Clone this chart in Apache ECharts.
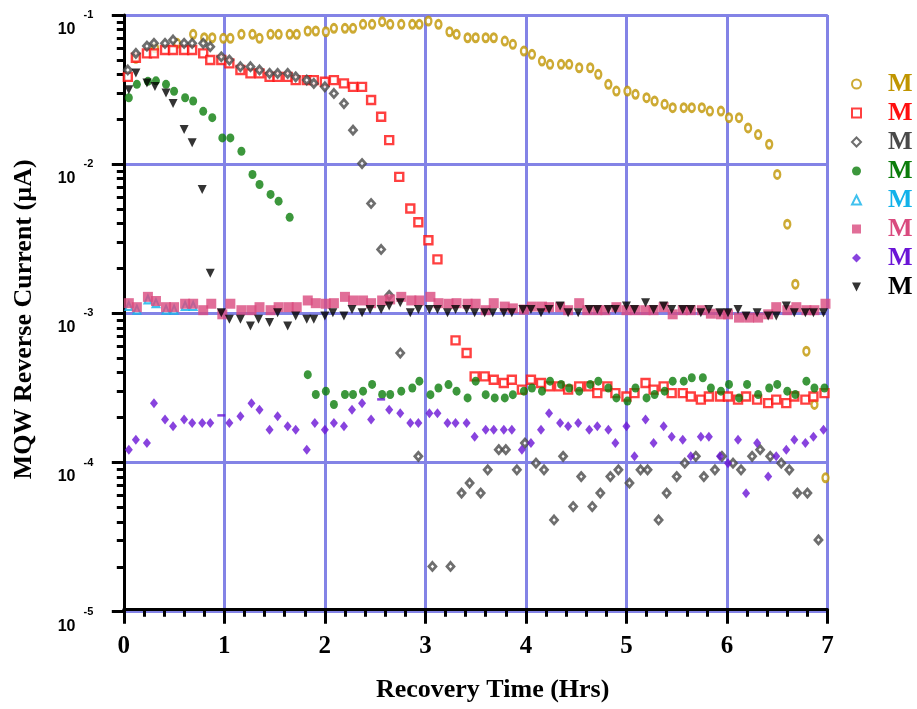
<!DOCTYPE html>
<html>
<head>
<meta charset="utf-8">
<script src="https://cdn.jsdelivr.net/npm/echarts@6/dist/echarts.min.js"></script>
<style>html,body{margin:0;padding:0;background:#fff}#c{width:917px;height:709px}</style>
</head>
<body>
<div id="c"></div>
<script>
const seriesNames = ['M1','M2','M3','M4','M5','M6','M7','M8'];
const legendLabel = 'M';
const xTitle = 'Recovery Time (Hrs)';
const yTitle = 'MQW Reverse Current (µA)';

const goldData = [[0.12,0.0512],[0.31,0.0603],[0.53,0.0646],
[0.69,0.0742],[0.80,0.0704],[0.88,0.0704],[0.99,0.0698],[1.06,0.0698],[1.17,0.0742],[1.28,0.0742],[1.35,0.0698],[1.46,0.0742],[1.54,0.0742],[1.65,0.0742],[1.72,0.0742],[1.83,0.0781],[1.91,0.0781],[2.01,0.0772],[2.09,0.0814],[2.20,0.0814],[2.28,0.0814],[2.38,0.0866],[2.47,0.0866],[2.57,0.0902],[2.65,0.0866],[2.76,0.0866],[2.87,0.0866],[2.94,0.0866],[3.03,0.0911],[3.13,0.0866],[3.24,0.0772],[3.31,0.0742],[3.42,0.0704],[3.50,0.0704],[3.60,0.0704],[3.68,0.0704],[3.79,0.0669],[3.87,0.0636],[3.98,0.0573],[4.06,0.0545],[4.16,0.0491],[4.24,0.0467],[4.35,0.0467],[4.43,0.0467],[4.53,0.0443],[4.64,0.0443],[4.72,0.0400],[4.82,0.0343],[4.90,0.0309],[5.01,0.0309],[5.09,0.0294],[5.20,0.0279],[5.28,0.0265],[5.38,0.0252],[5.46,0.0239],[5.57,0.0239],[5.65,0.0239],[5.75,0.0239],[5.83,0.0227],[5.94,0.0227],[6.02,0.0205],[6.12,0.0205],[6.21,0.0175],[6.31,0.0158],[6.42,0.0136],[6.50,0.00853],[6.60,0.00396],[6.68,0.00157],[6.79,0.000558],[6.87,0.000245],[6.98,0.000079]];

const redData = [[0.04,0.0385],[0.12,0.0517],[0.23,0.0553],[0.30,0.0553],[0.41,0.0582],[0.49,0.0582],[0.60,0.0582],[0.68,0.0582],[0.79,0.0553],[0.86,0.0499],[0.97,0.0499],[1.05,0.0474],[1.16,0.0428],[1.26,0.0406],[1.35,0.0406],[1.45,0.0385],[1.53,0.0385],[1.63,0.0385],[1.71,0.0366],[1.82,0.0366],[1.89,0.0366],[2.00,0.0357],[2.09,0.0366],[2.19,0.0348],[2.28,0.0330],[2.37,0.0330],[2.46,0.0269],[2.56,0.0208],[2.64,0.0145],[2.74,0.00822],[2.85,0.00504],[2.93,0.00408],[3.03,0.00309],[3.12,0.00230],[3.30,0.000659],[3.41,0.000542],[3.49,0.000378],[3.59,0.000378],[3.68,0.000359],[3.78,0.000341],[3.86,0.000359],[3.96,0.000308],[4.05,0.000359],[4.15,0.000341],[4.23,0.000324],[4.33,0.000324],[4.42,0.000308],[4.53,0.000324],[4.63,0.000324],[4.71,0.000292],[4.81,0.000324],[4.89,0.000292],[5.00,0.000277],[5.08,0.000292],[5.19,0.000341],[5.27,0.000308],[5.37,0.000324],[5.45,0.000292],[5.56,0.000292],[5.64,0.000277],[5.74,0.000264],[5.82,0.000277],[5.93,0.000277],[6.01,0.000277],[6.11,0.000264],[6.19,0.000277],[6.30,0.000264],[6.41,0.000250],[6.49,0.000264],[6.59,0.000250],[6.67,0.000277],[6.78,0.000264],[6.86,0.000277],[6.97,0.000292]];

const greyData = [[0.04,0.0428],[0.12,0.0553],[0.23,0.0619],[0.30,0.0646],[0.41,0.0646],[0.49,0.0680],[0.60,0.0646],[0.68,0.0646],[0.79,0.0646],[0.86,0.0613],[0.97,0.0525],[1.05,0.0499],[1.16,0.0450],[1.26,0.0450],[1.35,0.0428],[1.45,0.0406],[1.53,0.0406],[1.63,0.0406],[1.71,0.0385],[1.82,0.0366],[1.89,0.0348],[2.00,0.0330],[2.09,0.0298],[2.19,0.0255],[2.28,0.0169],[2.37,0.0101],[2.46,0.00545],[2.56,0.00268],[2.64,0.00132],[2.75,0.000542],[2.93,0.000110],[3.07,0.0000201],[3.25,0.0000201],[3.36,0.0000624],[3.44,0.0000728],[3.55,0.0000624],[3.62,0.0000893],[3.73,0.000122],[3.80,0.000122],[3.91,0.0000893],[3.99,0.000135],[4.10,0.0000990],[4.18,0.0000893],[4.28,0.0000412],[4.37,0.000110],[4.47,0.0000507],[4.55,0.0000805],[4.66,0.0000507],[4.74,0.0000624],[4.84,0.0000805],[4.92,0.0000893],[5.03,0.0000728],[5.14,0.0000893],[5.21,0.0000893],[5.32,0.0000412],[5.40,0.0000624],[5.50,0.0000805],[5.58,0.0000990],[5.69,0.000110],[5.77,0.0000805],[5.88,0.0000893],[5.95,0.000110],[6.06,0.0000990],[6.14,0.0000893],[6.25,0.000110],[6.33,0.000122],[6.43,0.000110],[6.54,0.0000990],[6.62,0.0000893],[6.70,0.0000624],[6.80,0.0000624],[6.91,0.0000303]];

const greenData = [[0.05,0.0279],[0.13,0.0343],[0.24,0.0359],[0.32,0.0362],[0.42,0.0343],[0.50,0.0308],[0.61,0.0279],[0.69,0.0265],[0.79,0.0226],[0.88,0.0205],[0.98,0.0150],[1.06,0.0150],[1.17,0.0122],[1.28,0.00853],[1.35,0.00731],[1.46,0.00627],[1.54,0.00565],[1.65,0.00440],
[1.83,0.000388],[1.91,0.000286],[2.01,0.000301],[2.09,0.000245],[2.20,0.000286],[2.28,0.000286],[2.38,0.000301],[2.47,0.000334],[2.57,0.000286],[2.65,0.000286],[2.76,0.000301],[2.87,0.000316],[2.94,0.000351],[3.05,0.000285],[3.13,0.000316],[3.23,0.000333],[3.31,0.000301],[3.42,0.000271],[3.50,0.000351],[3.60,0.000285],[3.69,0.000271],[3.79,0.000271],[3.87,0.000285],[3.98,0.000301],[4.06,0.000316],[4.16,0.000301],[4.24,0.000351],[4.35,0.000334],[4.43,0.000316],[4.53,0.000301],[4.64,0.000334],[4.72,0.000351],[4.82,0.000316],[4.90,0.000271],[5.01,0.000258],[5.09,0.000316],[5.20,0.000271],[5.28,0.000286],[5.38,0.000301],[5.46,0.000351],[5.57,0.000351],[5.65,0.000370],[5.76,0.000370],[5.84,0.000316],[5.94,0.000301],[6.02,0.000334],[6.12,0.000271],[6.20,0.000334],[6.31,0.000286],[6.42,0.000316],[6.50,0.000334],[6.60,0.000301],[6.68,0.000286],[6.79,0.000351],[6.87,0.000316],[6.97,0.000316]];

const cyanData = [[0.05,0.00112],[0.13,0.00106],[0.24,0.00124],[0.32,0.00117],[0.42,0.00106],[0.50,0.00106],[0.61,0.00112],[0.69,0.00112]];

const pinkData = [[0.05,0.00117],[0.13,0.00110],[0.24,0.00129],[0.32,0.00121],[0.42,0.00110],[0.50,0.00110],[0.61,0.00116],[0.69,0.00116],[0.79,0.00105],[0.87,0.00116],[0.98,0.000985],[1.06,0.00116],[1.17,0.00105],[1.27,0.00105],[1.35,0.00110],[1.46,0.00105],[1.54,0.00110],[1.64,0.00110],[1.72,0.00110],[1.83,0.00122],[1.91,0.00117],[2.01,0.00116],[2.09,0.00117],[2.20,0.00129],[2.28,0.00122],[2.38,0.00122],[2.46,0.00117],[2.57,0.00122],[2.65,0.00124],[2.76,0.00129],[2.86,0.00122],[2.94,0.00122],[3.05,0.00129],[3.13,0.00117],[3.23,0.00116],[3.31,0.00117],[3.42,0.00116],[3.50,0.00116],[3.60,0.00105],[3.68,0.00117],[3.79,0.00111],[3.87,0.00108],[3.98,0.00106],[4.06,0.00111],[4.16,0.00111],[4.23,0.00110],[4.34,0.00110],[4.42,0.00105],[4.53,0.00117],[4.61,0.00105],[4.71,0.00105],[4.79,0.00105],[4.90,0.00110],[5.00,0.00105],[5.09,0.00105],[5.19,0.00105],[5.27,0.00105],[5.37,0.00110],[5.46,0.000985],[5.56,0.00105],[5.64,0.00105],[5.75,0.00105],[5.84,0.000995],[5.94,0.000985],[6.01,0.000985],[6.12,0.000936],[6.22,0.000936],[6.31,0.000936],[6.41,0.000985],[6.49,0.00110],[6.60,0.00105],[6.69,0.00110],[6.79,0.00105],[6.87,0.00105],[6.98,0.00116]];

const purpleData = [[0.05,0.000122],[0.12,0.000142],[0.23,0.000135],[0.30,0.000250],[0.41,0.000194],[0.49,0.000175],[0.60,0.000194],[0.68,0.000184],[0.78,0.000184],[0.86,0.000184],[1.05,0.000184],[1.16,0.000204],[1.27,0.000250],[1.35,0.000226],[1.45,0.000166],[1.53,0.000204],[1.63,0.000175],[1.71,0.000166],[1.82,0.000122],[1.90,0.000184],[2.00,0.000166],[2.09,0.000184],[2.19,0.000175],[2.27,0.000226],[2.37,0.000250],[2.46,0.000194],[2.64,0.000226],[2.75,0.000214],[2.85,0.000184],[2.93,0.000184],[3.04,0.000214],[3.12,0.000214],[3.22,0.000184],[3.30,0.000184],[3.41,0.000184],[3.49,0.000149],[3.60,0.000166],[3.68,0.000166],[3.78,0.000166],[3.86,0.000166],[3.96,0.000122],[4.05,0.000135],[4.15,0.000166],[4.23,0.000214],[4.34,0.000184],[4.42,0.000175],[4.52,0.000184],[4.63,0.000166],[4.71,0.000175],[4.82,0.000166],[4.89,0.000135],[5.00,0.000175],[5.08,0.000110],[5.19,0.000194],[5.27,0.000135],[5.37,0.000175],[5.45,0.000149],[5.56,0.000142],[5.64,0.000110],[5.74,0.000149],[5.82,0.000149],[5.93,0.000110],[6.01,0.0000990],[6.11,0.000142],[6.19,0.0000622],[6.30,0.000135],[6.41,0.0000805],[6.49,0.000110],[6.59,0.000122],[6.67,0.000142],[6.78,0.000135],[6.86,0.000149],[6.96,0.000166]];
const purpleDashData = [[0.97,0.000207],[2.56,0.000265]];

const blackData = [[0.05,0.0316],[0.12,0.0408],[0.23,0.0350],[0.31,0.0332],[0.42,0.0300],[0.49,0.0255],[0.60,0.0171],[0.68,0.0139],[0.78,0.00676],[0.86,0.00186],[0.97,0.00101],[1.05,0.000912],[1.16,0.000912],[1.26,0.000822],[1.34,0.000912],[1.45,0.000867],[1.53,0.00101],[1.63,0.000822],[1.71,0.000959],[1.82,0.000912],[1.89,0.000912],[2.00,0.000959],[2.08,0.00101],[2.19,0.000959],[2.27,0.00106],[2.37,0.00101],[2.45,0.00106],[2.56,0.00106],[2.64,0.00112],[2.75,0.00118],[2.85,0.00101],[2.93,0.00106],[3.04,0.00106],[3.12,0.00106],[3.22,0.00101],[3.30,0.00106],[3.41,0.00106],[3.49,0.00101],[3.59,0.00101],[3.67,0.00101],[3.78,0.00101],[3.86,0.00101],[3.97,0.00106],[4.05,0.00106],[4.15,0.00101],[4.23,0.00106],[4.34,0.00112],[4.42,0.00101],[4.52,0.00101],[4.63,0.00106],[4.71,0.00106],[4.82,0.00106],[4.89,0.00106],[5.00,0.00112],[5.08,0.00106],[5.19,0.00118],[5.27,0.00106],[5.37,0.00112],[5.45,0.00106],[5.56,0.00106],[5.64,0.00106],[5.74,0.00101],[5.82,0.00106],[5.93,0.00101],[6.01,0.00101],[6.11,0.00106],[6.19,0.000959],[6.30,0.00101],[6.41,0.000959],[6.49,0.000959],[6.59,0.00112],[6.67,0.00101],[6.78,0.00101],[6.86,0.00101],[6.96,0.00101]];

const SERIF = '"Liberation Serif","Times New Roman",serif';
const SANS = '"Liberation Sans",Arial,sans-serif';
const GRIDC = '#8383e6';
const DOWN_TRI = 'path://M0,0L10,0L5,10Z';

const styles = [
  {data: goldData,   symbol:'circle',   size:[6,8],  color:'#c09500', hollow:true,  bw:2.6},
  {data: redData,    symbol:'rect',     size:[8,8],  color:'#ff1010', hollow:true,  bw:2.4},
  {data: greyData,   symbol:'diamond',  size:[7,8],  color:'#4a4a4a', hollow:true,  bw:2.8},
  {data: greenData,  symbol:'circle',   size:[8,9],  color:'#0b7d0b', hollow:false},
  {data: cyanData,   symbol:'triangle', size:[7,8],  color:'#12b2ea', hollow:true,  bw:2},
  {data: pinkData,   symbol:'rect',     size:[10,10],color:'#d94a7e', hollow:false},
  {data: purpleData, symbol:'diamond',  size:[8,10], color:'#6a14d6', hollow:false},
  {data: blackData,  symbol:DOWN_TRI,   size:[9,9],  color:'#000000', hollow:false}
];

const series = styles.map((s,i) => ({
  type:'scatter', name: seriesNames[i], data: s.data,
  symbol: s.symbol, symbolSize: s.size,
  itemStyle: s.hollow ? {color:'#ffffff', borderColor:s.color, borderWidth:s.bw} : {color:s.color},
  emphasis:{disabled:true}, silent:true, z: 2 + i
}));
series.splice(7, 0, {
  type:'scatter', data: purpleDashData, symbol:'rect', symbolSize:[8,2.5],
  itemStyle:{color:'#6a14d6'}, silent:true, z:8
});

const chart = echarts.init(document.getElementById('c'), null, {renderer:'canvas'});
chart.setOption({
  animation:false,
  backgroundColor:'#ffffff',
  grid:{left:123.8, right:89.5, top:15, bottom:97.3, containLabel:false},
  legend:{
    orient:'vertical', left:851, top:71, padding:0, itemWidth:9, itemHeight:9, itemGap:3,
    selectedMode:false,
    data: styles.map((s,i)=>({
      name: seriesNames[i], icon: s.symbol,
      itemStyle: s.hollow ? {color:'#ffffff', borderColor:s.color, borderWidth:2} : {color:s.color, borderWidth:0},
      textStyle:{color:s.color}
    })),
    formatter: () => '{m|' + legendLabel + '}',
    textStyle:{
      rich:{ m:{fontFamily:SERIF, fontWeight:'bold', fontSize:26, lineHeight:26, padding:[0,0,0,22]} }
    }
  },
  xAxis:{
    type:'value', min:0, max:7, interval:1, offset:-2,
    name: xTitle, nameLocation:'middle', nameGap:68,
    nameTextStyle:{fontFamily:SERIF, fontWeight:'bold', fontSize:26, color:'#000', padding:[0,0,0,34]},
    axisLine:{show:true, onZero:false, lineStyle:{color:'#000', width:3}},
    axisTick:{show:true, length:14, lineStyle:{color:'#000', width:3}},
    minorTick:{show:true, splitNumber:5, length:7, lineStyle:{color:'#000', width:3}},
    axisLabel:{margin:24, fontFamily:SERIF, fontWeight:'bold', fontSize:25, color:'#000'},
    splitLine:{show:true, lineStyle:{color:GRIDC, width:3}},
    minorSplitLine:{show:false}
  },
  yAxis:{
    type:'log', logBase:10, min:1e-5, max:1e-1, offset:2.5,
    name: yTitle, nameLocation:'middle', nameGap:84, nameRotate:90,
    nameTextStyle:{fontFamily:SERIF, fontWeight:'bold', fontSize:26, color:'#000', padding:[0,12,0,0]},
    axisLine:{show:true, lineStyle:{color:'#000', width:3}},
    axisTick:{show:true, length:12, lineStyle:{color:'#000', width:3}},
    minorTick:{show:true, splitNumber:9, length:7, lineStyle:{color:'#000', width:3}},
    axisLabel:{
      margin:28,
      formatter: v => '{b|10}{s|' + Math.round(Math.log10(v)) + '}',
      rich:{
        b:{fontFamily:SANS, fontWeight:'bold', fontSize:16, color:'#000', padding:[29,0,0,0]},
        s:{fontFamily:SANS, fontWeight:'bold', fontSize:11, color:'#000', padding:[0,0,0,8], verticalAlign:'middle'}
      }
    },
    splitLine:{show:true, lineStyle:{color:GRIDC, width:3}},
    minorSplitLine:{show:false}
  },
  series: series
});
</script>
</body>
</html>
